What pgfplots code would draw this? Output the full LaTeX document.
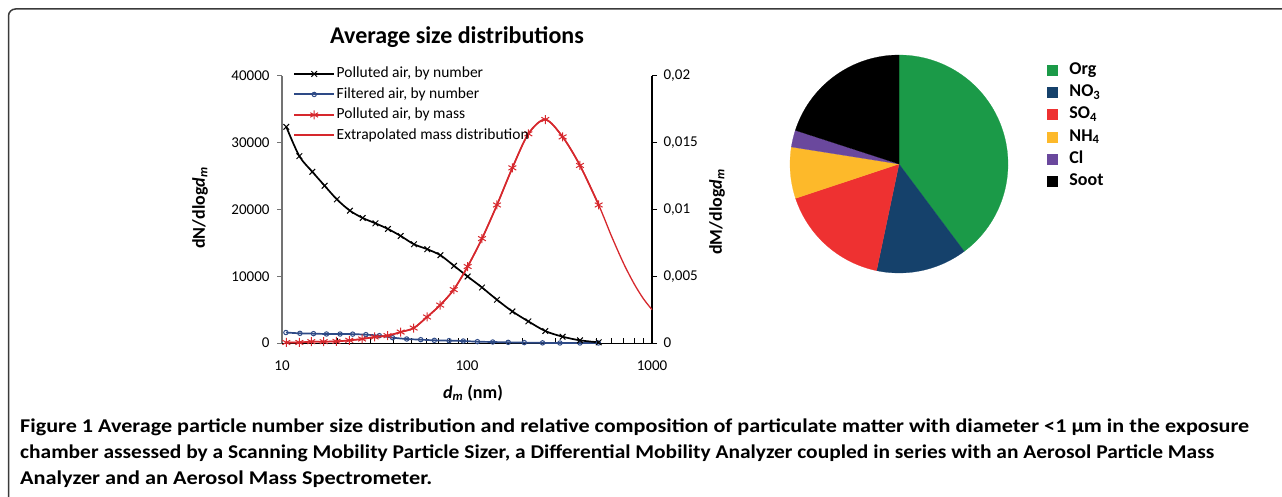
\documentclass[border=0pt]{standalone}
\usepackage{pgfplots}
\pgfplotsset{compat=1.18}
\usepackage{pgfplotstable}
\usepackage{graphicx}
\usepackage{fontspec}
\setmainfont{Carlito}

\definecolor{cblue}{HTML}{2E4A86}
\definecolor{cbluefill}{HTML}{A3B1D6}
\definecolor{cred}{HTML}{D6282D}
\definecolor{cOrg}{HTML}{1B9A48}
\definecolor{cNO}{HTML}{15416B}
\definecolor{cSO}{HTML}{EE3131}
\definecolor{cNH}{HTML}{FDB92A}
\definecolor{cCl}{HTML}{6A489D}
\definecolor{cSoot}{HTML}{000000}
\definecolor{cframe}{HTML}{3A3A3A}

\newcommand\fs[2]{\fontsize{#1}{#2}\selectfont}

% polluted air, by number (dN/dlogdm)
\pgfplotstableread{
d N
10.55 32380
12.41 27990
14.59 25650
17.0 23560
19.8 21520
23.3 19820
27.3 18730
32.0 17930
37.4 17085
43.8 16040
51.7 14790
61.0 14050
71.8 13150
85.1 11560
100.8 9960
120.5 8320
145.2 6475
175.9 4730
214.6 3240
265 1790
328.8 946
408 400
515 100
}\pollnum

% filtered air, by number
\pgfplotstableread{
d N
10.5 1570
12.5 1450
14.8 1400
17.4 1350
20.6 1345
24.1 1330
28.4 1250
33.6 1100
39.6 800
47.2 600
56.2 500
66.6 400
80.0 350
95.5 300
113.8 200
137.7 150
167.0 100
204.0 60
256.0 20
318.0 0
408.0 0
513.0 0
}\filtnum

% polluted air, by mass (dM/dlogdm)
\pgfplotstableread{
d M
10.55 0.00004
12.41 0.00004
14.4 0.00010
16.8 0.00010
19.7 0.00012
23.1 0.00020
27.1 0.00030
31.7 0.00045
37.2 0.00055
43.8 0.00082
51.5 0.00112
60.8 0.00195
71.6 0.00284
84.8 0.00400
100.8 0.00573
120.5 0.00782
145.2 0.01034
175.9 0.01312
214.6 0.01567
265 0.01674
328.8 0.01544
408 0.01330
515 0.01034
}\pollmass

% extrapolated mass distribution
\pgfplotstableread{
d M
10.55 0.00004
12.41 0.00004
14.4 0.00010
16.8 0.00010
19.7 0.00012
23.1 0.00020
27.1 0.00030
31.7 0.00045
37.2 0.00055
43.8 0.00082
51.5 0.00112
60.8 0.00195
71.6 0.00284
84.8 0.00400
100.8 0.00573
120.5 0.00782
145.2 0.01034
175.9 0.01312
214.6 0.01567
265 0.01674
328.8 0.01544
408 0.01330
515 0.01034
600 0.00810
700 0.00600
800 0.00444
900 0.00330
1000 0.00250
}\extramass

% composition (%)
\def\pOrg{39.8}
\def\pNO{13.5}
\def\pSO{16.6}
\def\pNH{7.6}
\def\pCl{2.5}
\def\pSoot{20.0}

\begin{document}
\begin{tikzpicture}[x=1pt,y=1pt]
\useasboundingbox (0,0) rectangle (1282,496);
\draw[line width=1.5pt, color=cframe, rounded corners=7pt] (8.5,-40) -- (8.5,487) -- (1340,487);

% ---------- left axis: number distributions ----------
\begin{axis}[
  at={(282pt,153pt)}, anchor=south west,
  scale only axis, width=370pt, height=267pt,
  xmode=log, xmin=10, xmax=1000,
  ymin=0, ymax=40000,
  scaled y ticks=false,
  axis y line*=left, axis x line*=bottom,
  y axis line style={draw=black!55, line width=1.2pt},
  x axis line style={draw=black, line width=1pt},
  tick align=inside,
  major tick length=5pt, minor tick length=5pt,
  xtick={10,100,1000}, xticklabels={10,100,1000},
  minor xtick={20,30,40,50,60,70,80,90,200,300,400,500,600,700,800,900},
  ytick={0,10000,20000,30000,40000},
  yticklabels={0,10000,20000,30000,40000},
  ytick style={xshift=-5pt, draw=black!55, line width=1pt},
  xtick style={draw=black, line width=0.8pt},
  tick label style={font=\fs{15}{18}},
  /pgf/number format/assume math mode=true,
  yticklabel style={anchor=east, xshift=-9pt},
  xticklabel style={yshift=-14pt},
  xlabel={\textbf{\textit{d}\textsubscript{\textit{m}} (nm)}},
  xlabel style={font=\fs{18}{22}, at={(rel axis cs:0.5,0)}, anchor=center, yshift=-50pt, xshift=6pt},
  title={Average size distributions},
  title style={font=\bfseries\fs{24}{28}, at={(rel axis cs:0.5,1)}, anchor=center, yshift=33pt, xshift=-10pt},
  clip=false,
]
\addplot[draw=cblue, line width=1.7pt, smooth, mark=o, mark size=2.2pt,
  mark options={fill=cbluefill, draw=cblue, line width=1pt}] table[x=d, y=N] {\filtnum};
\addplot[draw=black, line width=1.7pt, smooth, mark=x, mark size=4pt,
  mark options={draw=black, line width=1pt}] table[x=d, y=N] {\pollnum};
\end{axis}

% ---------- right axis: mass distribution ----------
\begin{axis}[
  at={(282pt,153pt)}, anchor=south west,
  scale only axis, width=370pt, height=267pt,
  xmode=log, xmin=10, xmax=1000,
  ymin=0, ymax=0.02,
  scaled y ticks=false,
  axis y line*=right, axis x line=none,
  y axis line style={draw=black, line width=1.2pt},
  tick align=inside, major tick length=5pt,
  ytick={0,0.005,0.01,0.015,0.02},
  yticklabels={0,{0,005},{0,01},{0,015},{0,02}},
  ytick style={xshift=5pt, draw=black, line width=1pt},
  tick label style={font=\fs{15}{18}},
  /pgf/number format/assume math mode=true,
  yticklabel style={anchor=west, xshift=8pt},
  clip=false,
  legend cell align=left,
  legend image code/.code={%
    \draw[#1, mark=none, line width=2pt] (0pt,0pt) -- (40pt,0pt);
    \path[#1, draw=none] plot coordinates {(20pt,0pt)};},
  legend style={at={(rel axis cs:0,1)}, anchor=north west, xshift=11pt, yshift=11pt,
    draw=none, fill=none, font=\fs{15.5}{18}, row sep=3pt, inner sep=0pt,
    nodes={inner sep=1.5pt, text height=11pt, text depth=3.5pt}},
]
\addlegendimage{draw=black, mark=x, mark size=4pt, mark options={line width=1pt, draw=black}}
\addlegendentry{Polluted air, by number}
\addlegendimage{draw=cblue, mark=o, mark size=2.2pt, mark options={fill=cbluefill, draw=cblue, line width=1pt}}
\addlegendentry{Filtered air, by number}
\addplot[draw=cred, line width=1.7pt, smooth, mark=asterisk, mark size=4.5pt,
  mark options={line width=1pt, draw=cred}] table[x=d, y=M] {\pollmass};
\addlegendentry{Polluted air, by mass}
\addplot[draw=cred, line width=1.3pt, smooth, no marks] table[x=d, y=M] {\extramass};
\addlegendentry{Extrapolated mass distribution}
\end{axis}

% axis titles
\node[rotate=90, font=\fs{18}{22}, inner sep=0pt] at (200,288)
  {\textbf{dN/dlog\textit{d}\textsubscript{\textit{m}}}};
\node[rotate=90, font=\fs{18}{22}, inner sep=0pt] at (717,284)
  {\textbf{dM/dlog\textit{d}\textsubscript{\textit{m}}}};

% ---------- pie: composition ----------
\pgfmathsetmacro\aA{90}
\pgfmathsetmacro\aB{\aA-3.6*\pOrg}
\pgfmathsetmacro\aC{\aB-3.6*\pNO}
\pgfmathsetmacro\aD{\aC-3.6*\pSO}
\pgfmathsetmacro\aE{\aD-3.6*\pNH}
\pgfmathsetmacro\aF{\aE-3.6*\pCl}
\pgfmathsetmacro\aG{\aF-3.6*\pSoot}
\begin{axis}[
  at={(899pt,332pt)}, anchor=center,
  scale only axis, width=218pt, height=218pt,
  xmin=-1, xmax=1, ymin=-1, ymax=1,
  hide axis, clip=false,
  legend cell align=left,
  legend image code/.code={\path[#1] (0pt,-5pt) rectangle (10pt,5pt);},
  legend style={at={(rel axis cs:1,1)}, anchor=north west, xshift=39pt, yshift=-4pt,
    draw=none, fill=none, font=\bfseries\fs{18}{22}, row sep=1.3pt, inner sep=0pt,
    nodes={inner sep=2pt, text height=13pt, text depth=4pt}},
]
\addplot[fill=cOrg, draw=cOrg, line width=0.2pt, domain=\aB:\aA, samples=80] ({cos(x)},{sin(x)}) -- (axis cs:0,0) -- cycle;
\addlegendentry{\hspace{10pt}Org}
\addplot[fill=cNO, draw=cNO, line width=0.2pt, domain=\aC:\aB, samples=40] ({cos(x)},{sin(x)}) -- (axis cs:0,0) -- cycle;
\addlegendentry{\hspace{10pt}NO\textsubscript{3}}
\addplot[fill=cSO, draw=cSO, line width=0.2pt, domain=\aD:\aC, samples=40] ({cos(x)},{sin(x)}) -- (axis cs:0,0) -- cycle;
\addlegendentry{\hspace{10pt}SO\textsubscript{4}}
\addplot[fill=cNH, draw=cNH, line width=0.2pt, domain=\aE:\aD, samples=30] ({cos(x)},{sin(x)}) -- (axis cs:0,0) -- cycle;
\addlegendentry{\hspace{10pt}NH\textsubscript{4}}
\addplot[fill=cCl, draw=cCl, line width=0.2pt, domain=\aF:\aE, samples=15] ({cos(x)},{sin(x)}) -- (axis cs:0,0) -- cycle;
\addlegendentry{\hspace{10pt}Cl}
\addplot[fill=cSoot, draw=cSoot, line width=0.2pt, domain=\aG:\aF, samples=40] ({cos(x)},{sin(x)}) -- (axis cs:0,0) -- cycle;
\addlegendentry{\hspace{10pt}Soot}
\end{axis}

% ---------- caption ----------
\node[anchor=base west, inner sep=0pt, font=\bfseries\fs{19.5}{26}] at (20,64)
  {\resizebox{1229pt}{\height}{Figure 1 Average particle number size distribution and relative composition of particulate matter with diameter <1 µm in the exposure}};
\node[anchor=base west, inner sep=0pt, font=\bfseries\fs{19.5}{26}] at (20,38)
  {\resizebox{1194pt}{\height}{chamber assessed by a Scanning Mobility Particle Sizer, a Differential Mobility Analyzer coupled in series with an Aerosol Particle Mass}};
\node[anchor=base west, inner sep=0pt, font=\bfseries\fs{19.5}{26}] at (20,12)
  {\resizebox{412pt}{\height}{Analyzer and an Aerosol Mass Spectrometer.}};
\end{tikzpicture}
\end{document}
